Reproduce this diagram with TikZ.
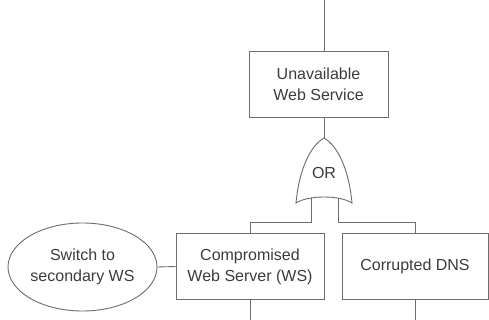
\documentclass[tikz,border=0pt]{standalone}
\usepackage{fontspec}
\setmainfont{Liberation Sans}
\usetikzlibrary{shapes.geometric}
\definecolor{edge}{HTML}{6E6E6E}
\definecolor{ink}{HTML}{3C3C3C}
\begin{document}
\begin{tikzpicture}[x=1pt,y=-1pt,
  line/.style={draw=edge,line width=0.9pt},
  event/.style={line,rectangle,minimum width=#1,minimum height=66pt,inner sep=0pt,
    align=center,text=ink,font=\fontsize{16}{21}\selectfont},
  event/.default=139pt,
  cond/.style={line,ellipse,minimum width=149pt,minimum height=88pt,inner sep=0pt,
    align=center,text=ink,font=\fontsize{16}{21}\selectfont}]
\useasboundingbox (0,0) rectangle (489,320);
\fill[white] (0,0) rectangle (489,320);

% top event and its upward link
\coordinate (up) at (324,0);
\node[event] (top) at (318.5,84) {Unavailable\\Web Service};
\draw[line] (up) -- (top.north -| up);

% OR gate
\coordinate (tip) at (324,138);
\coordinate (gl) at (296,203);
\coordinate (gr) at (352,203);
\coordinate (inL) at (311,198.5);
\coordinate (inR) at (338,198.5);
\draw[line,fill=white] (gl) .. controls (299,170) and (310,146) .. (tip)
  .. controls (338,146) and (349,170) .. (gr)
  .. controls (340,195) and (308,195) .. cycle;
\node[text=ink,font=\fontsize{16}{21}\selectfont] (orlabel) at (324,173) {OR};
\draw[line] (top.south -| tip) -- (tip);

% basic events
\node[event=148pt] (ws) at (250,266.5) {Compromised\\Web Server (WS)};
\node[event=146pt] (dns) at (415,266.5) {Corrupted DNS};
\node[cond] (sw) at (82.5,267) {Switch to\\secondary WS};

% gate inputs
\coordinate (jl) at (311,222);
\coordinate (jr) at (338,222);
\draw[line] (inL) -- (jl) -| (ws.north);
\draw[line] (inR) -- (jr) -| (dns.north);

% links leaving the lower events
\coordinate (wsdown) at (250,320);
\coordinate (dnsdown) at (415,320);
\draw[line] (ws.south) -- (wsdown);
\draw[line] (dns.south) -- (dnsdown);

% condition attached to the left event
\draw[line] (sw.east) -- (ws.west);
\end{tikzpicture}
\end{document}
